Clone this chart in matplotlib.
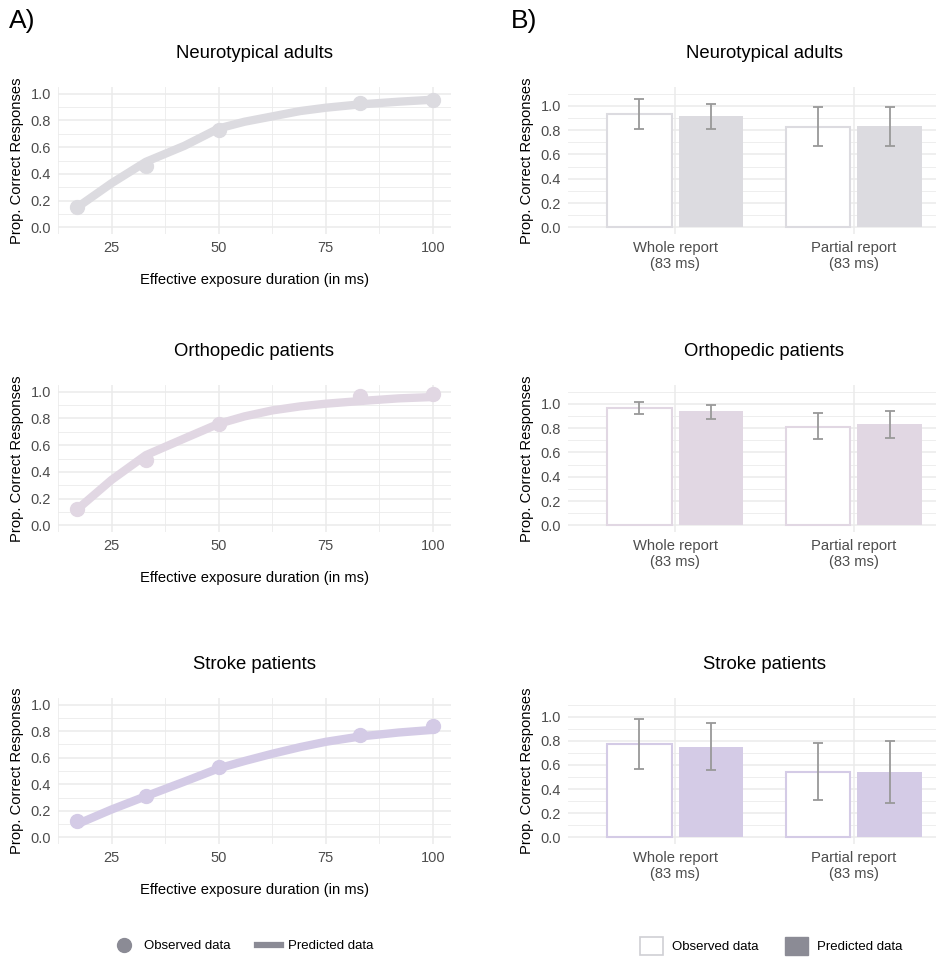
import matplotlib
matplotlib.use("Agg")
import matplotlib.pyplot as plt
import numpy as np
from matplotlib.lines import Line2D
from matplotlib.patches import Patch
from matplotlib.ticker import MultipleLocator

plt.rcParams["font.family"] = ["Liberation Sans", "DejaVu Sans"]

W, H = 937, 960

groups = ["Neurotypical adults", "Orthopedic patients", "Stroke patients"]
group_colors = ["#dcdbe0", "#e1d7e3", "#d4cbe6"]

# panel A: whole report accuracy by exposure duration
exposure_obs = [17, 33, 50, 83, 100]
obs_nt = [0.15, 0.46, 0.73, 0.93, 0.955]
obs_op = [0.125, 0.49, 0.755, 0.97, 0.98]
obs_st = [0.12, 0.31, 0.53, 0.775, 0.84]

exposure_pred = [17, 25, 33, 42, 50, 56, 62.5, 69, 75, 83, 92, 100]
pred_nt = [0.15, 0.33, 0.49, 0.61, 0.74, 0.79, 0.83, 0.87, 0.895, 0.92, 0.94, 0.955]
pred_op = [0.12, 0.34, 0.525, 0.65, 0.76, 0.815, 0.86, 0.89, 0.91, 0.93, 0.95, 0.96]
pred_st = [0.10, 0.21, 0.31, 0.42, 0.52, 0.575, 0.63, 0.68, 0.72, 0.76, 0.79, 0.81]

# panel B: whole vs partial report at 83 ms
conditions = ["Whole report\n(83 ms)", "Partial report\n(83 ms)"]
bar_obs_nt = [0.934, 0.829]
bar_obs_nt_lo = [0.808, 0.670]
bar_obs_nt_hi = [1.055, 0.989]
bar_pred_nt = [0.917, 0.838]
bar_pred_nt_lo = [0.813, 0.673]
bar_pred_nt_hi = [1.019, 0.989]

bar_obs_op = [0.964, 0.813]
bar_obs_op_lo = [0.915, 0.708]
bar_obs_op_hi = [1.017, 0.928]
bar_pred_op = [0.937, 0.832]
bar_pred_op_lo = [0.873, 0.722]
bar_pred_op_hi = [0.989, 0.937]

bar_obs_st = [0.771, 0.545]
bar_obs_st_lo = [0.565, 0.309]
bar_obs_st_hi = [0.981, 0.785]
bar_pred_st = [0.752, 0.545]
bar_pred_st_lo = [0.556, 0.287]
bar_pred_st_hi = [0.945, 0.799]

GRID = "#ebebeb"
TICK = "#4d4d4d"
ERR = "#999999"
LEGEND_GREY = "#8b8b95"

rows_px = [(87, 234), (385, 532), (698, 844)]


def px_axes(fig, x0, x1, y0, y1):
    return fig.add_axes([x0 / W, 1 - y1 / H, (x1 - x0) / W, (y1 - y0) / H])


def style_axes(ax):
    for s in ax.spines.values():
        s.set_visible(False)
    ax.set_facecolor("white")
    ax.set_axisbelow(True)
    ax.tick_params(which="both", length=0, labelsize=10.5, labelcolor=TICK, pad=5)
    ax.grid(which="major", color=GRID, linewidth=1.1)
    ax.grid(which="minor", color=GRID, linewidth=0.6)


def plot_curve(ax, title, color, obs, pred):
    style_axes(ax)
    ax.plot(exposure_pred, pred, color=color, linewidth=6, solid_capstyle="round",
            solid_joinstyle="round", zorder=3)
    ax.plot(exposure_obs, obs, "o", color=color, markersize=10, zorder=2)
    ax.set_xlim(12.5, 104.2)
    ax.set_ylim(-0.05, 1.05)
    ax.set_xticks([25, 50, 75, 100])
    ax.xaxis.set_minor_locator(MultipleLocator(12.5))
    ax.set_yticks(np.arange(0, 1.01, 0.2))
    ax.yaxis.set_minor_locator(MultipleLocator(0.1))
    ax.set_yticklabels([f"{v:.1f}" for v in np.arange(0, 1.01, 0.2)])
    ax.set_title(title, fontsize=13.3, pad=21)
    ax.set_xlabel("Effective exposure duration (in ms)", fontsize=10.6, labelpad=13)
    ax.set_ylabel("Prop. Correct Responses", fontsize=10.6, labelpad=5)


def plot_bars(ax, title, color, obs, obs_lo, obs_hi, pred, pred_lo, pred_hi):
    style_axes(ax)
    x = np.arange(1, len(conditions) + 1)
    ax.bar(x - 0.2, obs, width=0.36, facecolor="white", edgecolor=color, linewidth=1.5, zorder=2)
    ax.bar(x + 0.2, pred, width=0.36, facecolor=color, edgecolor=color, linewidth=0, zorder=2)
    obs = np.array(obs)
    pred = np.array(pred)
    ax.errorbar(x - 0.2, obs, yerr=[obs - np.array(obs_lo), np.array(obs_hi) - obs],
                fmt="none", ecolor=ERR, elinewidth=1.3, capsize=3.5, capthick=1.3, zorder=3)
    ax.errorbar(x + 0.2, pred, yerr=[pred - np.array(pred_lo), np.array(pred_hi) - pred],
                fmt="none", ecolor=ERR, elinewidth=1.3, capsize=3.5, capthick=1.3, zorder=3)
    ax.set_xlim(0.4, 2.6)
    ax.set_ylim(-0.055, 1.155)
    ax.set_xticks(x)
    ax.set_xticklabels(conditions, fontsize=10.6)
    ax.set_yticks(np.arange(0, 1.01, 0.2))
    ax.set_yticklabels([f"{v:.1f}" for v in np.arange(0, 1.01, 0.2)])
    ax.yaxis.set_minor_locator(MultipleLocator(0.1))
    ax.grid(which="minor", axis="x", visible=False)
    ax.set_title(title, fontsize=13.3, pad=21)
    ax.set_ylabel("Prop. Correct Responses", fontsize=10.6, labelpad=5)


def main():
    fig = plt.figure(figsize=(W / 100, H / 100), dpi=100)
    fig.patch.set_facecolor("white")

    curves = [(obs_nt, pred_nt), (obs_op, pred_op), (obs_st, pred_st)]
    bars = [
        (bar_obs_nt, bar_obs_nt_lo, bar_obs_nt_hi, bar_pred_nt, bar_pred_nt_lo, bar_pred_nt_hi),
        (bar_obs_op, bar_obs_op_lo, bar_obs_op_hi, bar_pred_op, bar_pred_op_lo, bar_pred_op_hi),
        (bar_obs_st, bar_obs_st_lo, bar_obs_st_hi, bar_pred_st, bar_pred_st_lo, bar_pred_st_hi),
    ]

    for i, (y0, y1) in enumerate(rows_px):
        ax_l = px_axes(fig, 58, 451, y0, y1)
        plot_curve(ax_l, groups[i], group_colors[i], *curves[i])
        ax_r = px_axes(fig, 568, 961, y0, y1)
        plot_bars(ax_r, groups[i], group_colors[i], *bars[i])

    fig.text(9 / W, 1 - 21 / H, "A)", fontsize=19, va="center", ha="left")
    fig.text(511 / W, 1 - 21 / H, "B)", fontsize=19, va="center", ha="left")

    left_handles = [
        Line2D([], [], marker="o", linestyle="none", color=LEGEND_GREY, markersize=10),
        Line2D([], [], color=LEGEND_GREY, linewidth=4.5),
    ]
    fig.legend(left_handles, ["Observed data", "Predicted data"], loc="center",
               bbox_to_anchor=(243 / W, 1 - 946 / H), ncol=2, frameon=False,
               fontsize=9.5, handlelength=1.8, columnspacing=2.0, handletextpad=0.6)

    right_handles = [
        Patch(facecolor="white", edgecolor="#cfcfd4", linewidth=1.2),
        Patch(facecolor=LEGEND_GREY, edgecolor=LEGEND_GREY),
    ]
    fig.legend(right_handles, ["Observed data", "Predicted data"], loc="center",
               bbox_to_anchor=(771 / W, 1 - 946 / H), ncol=2, frameon=False,
               fontsize=9.5, handlelength=1.75, handleheight=1.75, columnspacing=2.0,
               handletextpad=0.7)

    fig.savefig("out.png", dpi=100, facecolor="white")
    plt.close(fig)


if __name__ == "__main__":
    main()
